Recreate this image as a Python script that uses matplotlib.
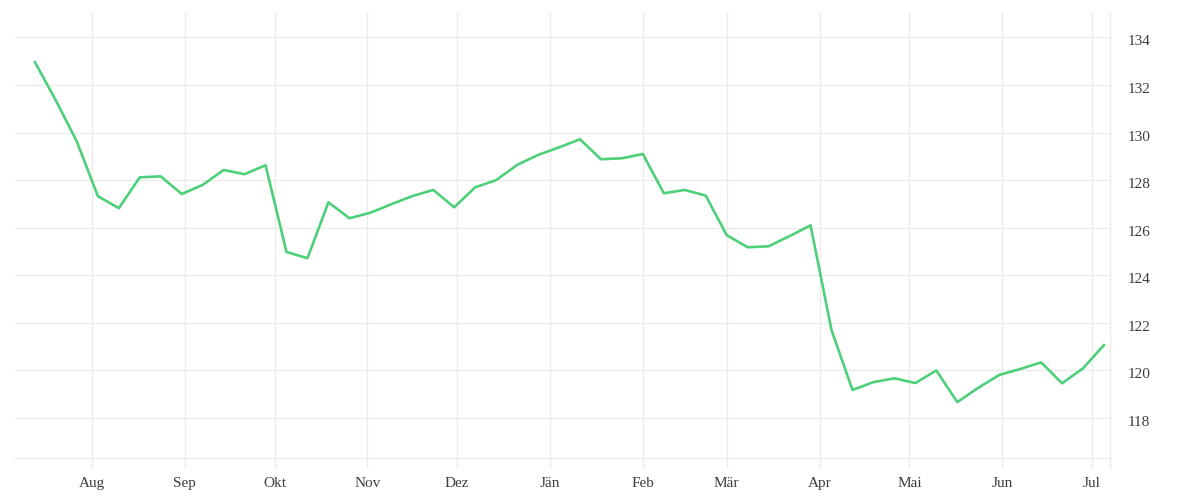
import pandas as pd
import numpy as np
import matplotlib
matplotlib.use('Agg')
import matplotlib.pyplot as plt
import matplotlib.dates as mdates
from matplotlib.transforms import ScaledTranslation

# weekly values
start_date = '2022-07-13'
values = [132.96, 131.35, 129.62, 127.33, 126.82, 128.12, 128.16, 127.42, 127.80, 128.43,
          128.25, 128.63, 124.98, 124.72, 127.07, 126.40, 126.63, 126.99, 127.33, 127.59,
          126.86, 127.70, 128.00, 128.64, 129.06, 129.38, 129.72, 128.88, 128.92, 129.10,
          127.45, 127.59, 127.35, 125.69, 125.18, 125.22, 125.65, 126.10, 121.70, 119.18,
          119.51, 119.67, 119.47, 120.00, 118.67, 119.27, 119.81, 120.06, 120.34, 119.46,
          120.09, 121.07]
month_names = ['Jän', 'Feb', 'Mär', 'Apr', 'Mai', 'Jun', 'Jul', 'Aug', 'Sep', 'Okt', 'Nov', 'Dez']
y_ticks = [118, 120, 122, 124, 126, 128, 130, 132, 134]

dates = pd.date_range(start_date, periods=len(values), freq='7D')

plt.rcParams['font.family'] = ['Liberation Serif', 'DejaVu Serif']

fig = plt.figure(figsize=(12, 5), dpi=100)
ax = fig.add_axes([0.0125, 0.084, 0.9125, 0.892])

ax.plot(dates, values, color='#4ed07b', linewidth=1.9)

ax.set_xlim(pd.Timestamp('2022-07-06 08:00'), pd.Timestamp('2023-07-07'))
ax.set_ylim(116.32, 135.07)

# months on x
ax.xaxis.set_major_locator(mdates.MonthLocator())
ax.xaxis.set_major_formatter(plt.FuncFormatter(
    lambda x, pos: month_names[mdates.num2date(x).month - 1]))

ax.yaxis.tick_right()
ax.set_yticks(y_ticks)

ax.grid(True, color='#ebebeb', linewidth=1)
ax.set_axisbelow(True)
for side in ['top', 'left']:
    ax.spines[side].set_visible(False)
for side in ['bottom', 'right']:
    ax.spines[side].set_color('#ebebeb')
    ax.spines[side].set_linewidth(1)

ax.tick_params(axis='x', length=7, width=1, color='#ebebeb', pad=7,
               labelsize=11, labelcolor='#3c3c3c')
ax.tick_params(axis='y', length=0, pad=13, labelsize=11, labelcolor='#3c3c3c')

# y labels sit a bit under their gridlines
for lbl in ax.get_yticklabels():
    lbl.set_transform(lbl.get_transform() + ScaledTranslation(0, -0.03, fig.dpi_scale_trans))

# right line runs down past the axis like the ticks
ax.plot([1, 1], [0, -0.022], transform=ax.transAxes, color='#ebebeb',
        linewidth=1, clip_on=False)

plt.savefig('out.png', dpi=100)
